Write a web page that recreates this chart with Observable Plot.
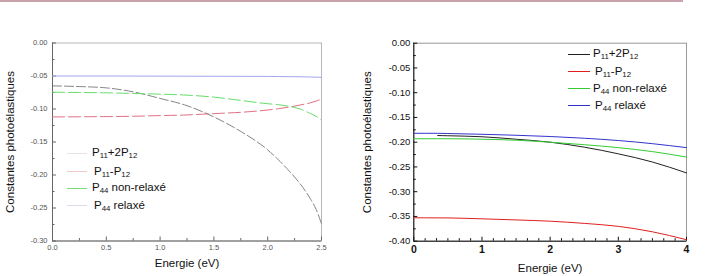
<!DOCTYPE html>
<html><head><meta charset="utf-8">
<script src="https://cdn.jsdelivr.net/npm/d3@7"></script>
<script src="https://cdn.jsdelivr.net/npm/@observablehq/plot@0.6"></script>
<style>
body{margin:0;background:#fff;font-family:"Liberation Sans",Arial,sans-serif;}
#wrap{position:relative;width:706px;height:276px;overflow:hidden;background:#fff;}
.topline{position:absolute;left:0;top:0;width:683px;height:2px;background:#c9a3ac;}
#left,#right{position:absolute;top:0;}
#left{left:0px}
#right{left:360px}
.leg{position:absolute;left:0;top:0;white-space:nowrap;color:#111;}
.leg .sw{position:absolute;height:0;}
.leg .tx{position:absolute;line-height:12px;}
sub{font-size:0.68em;vertical-align:-0.3em;line-height:0;}
</style></head><body>
<div id="wrap"><div class="topline"></div><div id="left"></div><div id="right"></div><div id="legL" class="leg"></div><div id="legR" class="leg"></div></div>
<script>
// ---------- data ----------
const seriesLabels = ["P<sub>11</sub>+2P<sub>12</sub>", "P<sub>11</sub>-P<sub>12</sub>", "P<sub>44</sub> non-relaxé", "P<sub>44</sub> relaxé"];
const yTitle = "Constantes photoélastiques";
const xTitle = "Energie (eV)";

// left panel
const leftE       = [0, 0.25, 0.5, 0.75, 1.0, 1.25, 1.5, 1.75, 2.0, 2.1, 2.2, 2.3, 2.4, 2.45, 2.5];
const leftP11p2P12 = [-0.065, -0.066, -0.068, -0.074, -0.084, -0.095, -0.112, -0.134, -0.162, -0.177, -0.194, -0.213, -0.237, -0.252, -0.274];
const leftP11mP12  = [-0.112, -0.1118, -0.1115, -0.111, -0.110, -0.109, -0.107, -0.105, -0.1015, -0.0995, -0.097, -0.094, -0.0905, -0.088, -0.085];
const leftP44nr    = [-0.0745, -0.075, -0.0755, -0.0765, -0.0775, -0.079, -0.082, -0.087, -0.092, -0.0935, -0.096, -0.1, -0.107, -0.111, -0.117];
const leftP44r     = [-0.050, -0.050, -0.050, -0.0501, -0.0502, -0.0503, -0.0504, -0.0505, -0.0506, -0.0508, -0.051, -0.0512, -0.0515, -0.0518, -0.052];
const leftXTicks = [0, 0.5, 1.0, 1.5, 2.0, 2.5];
const leftXMinor = [0.25, 0.75, 1.25, 1.75, 2.25];
const leftYTicks = [0, -0.05, -0.10, -0.15, -0.20, -0.25, -0.30];
const leftYMinor = [-0.025, -0.075, -0.125, -0.175, -0.225, -0.275];

// right panel
const rightE       = [0, 0.35, 0.5, 1, 1.5, 2, 2.5, 3, 3.5, 4];
const rightP11p2P12 = [null, -0.1865, -0.187, -0.189, -0.194, -0.200, -0.210, -0.2235, -0.240, -0.262];
const rightP11mP12  = [-0.3527, -0.3529, -0.353, -0.3548, -0.357, -0.3596, -0.364, -0.370, -0.381, -0.397];
const rightP44nr    = [-0.193, -0.193, -0.193, -0.194, -0.196, -0.200, -0.205, -0.211, -0.219, -0.230];
const rightP44r     = [-0.182, -0.182, -0.1825, -0.184, -0.186, -0.1885, -0.192, -0.1966, -0.203, -0.211];
const rightXTicks = [0, 1, 2, 3, 4];
const rightXMinor = d3.range(0, 24).map(i => i / 6).filter(v => Math.abs(v - Math.round(v)) > 1e-6);
const rightYTicks = [0, -0.05, -0.10, -0.15, -0.20, -0.25, -0.30, -0.35, -0.40];
const rightYMinor = [-0.025, -0.075, -0.125, -0.175, -0.225, -0.275, -0.325, -0.375];

// ---------- helpers ----------
const font = "Liberation Sans, Arial, sans-serif";
const rows = (E, vals) => E.map((e, i) => ({E: e, v: vals[i]})).filter(d => d.v != null);
const fmt2 = d => (Math.abs(d) < 1e-9 ? 0 : d).toFixed(2);

function panel(opt) {
  const yd = opt.yDomain, xd = opt.xDomain;
  return Plot.plot({
    width: opt.width, height: 276,
    marginLeft: opt.ml, marginRight: opt.mr, marginTop: opt.mt, marginBottom: opt.mb,
    x: {domain: xd}, y: {domain: yd},
    style: {fontFamily: font, background: "transparent", overflow: "visible"},
    marks: [
      Plot.frame({stroke: opt.frameColor, strokeWidth: 1}),
      Plot.ruleX([xd[0]], {stroke: opt.axisColor, strokeWidth: 1}),
      Plot.ruleY([yd[0]], {stroke: opt.axisColor, strokeWidth: 1}),
      // ticks (inward)
      Plot.axisY({ticks: opt.yTicks, tickSize: -4, fill: "none", label: null, stroke: opt.axisColor}),
      Plot.axisY({ticks: opt.yMinor, tickSize: -2.5, fill: "none", label: null, stroke: opt.axisColor}),
      Plot.axisX({ticks: opt.xTicks, tickSize: -4, fill: "none", label: null, stroke: opt.axisColor}),
      Plot.axisX({ticks: opt.xMinor, tickSize: -2.5, fill: "none", label: null, stroke: opt.axisColor}),
      // labels
      Plot.axisY({ticks: opt.yTicks, tickSize: 0, tickPadding: opt.yPad, tickFormat: fmt2, label: null,
        fill: opt.labelColor, fontSize: opt.yFont}),
      Plot.axisX({ticks: opt.xTicks, tickSize: 0, tickPadding: opt.xPad, tickFormat: opt.xFormat, label: null,
        fill: opt.labelColor, fontSize: opt.xFont, fontWeight: opt.xWeight}),
      // titles
      Plot.text([xTitle], {text: d => d, frameAnchor: "bottom", lineAnchor: "middle", dy: opt.xTitleDy, fontSize: 11.5, fill: "#111"}),
      Plot.text([yTitle], {text: d => d, frameAnchor: "left", textAnchor: "middle", lineAnchor: "middle", dx: opt.yTitleDx, rotate: -90, fontSize: 11.5, fill: "#111"}),
      // series
      ...opt.series.map(s => Plot.line(rows(opt.E, s.values), {
        x: "E", y: "v", stroke: s.color, strokeWidth: s.width, strokeDasharray: s.dash, curve: "monotone-x"
      }))
    ]
  });
}

document.getElementById("left").appendChild(panel({
  width: 330, ml: 52, mr: 9, mt: 42.5, mb: 35.5,
  xDomain: [0, 2.5], yDomain: [-0.30, 0],
  xTicks: leftXTicks, xMinor: leftXMinor, yTicks: leftYTicks, yMinor: leftYMinor,
  frameColor: "#b8b8b8", axisColor: "#666", labelColor: "#555",
  yFont: 7.5, xFont: 7.5, yPad: 5, xPad: 4, xWeight: "normal", xFormat: d => d.toFixed(1),
  xTitleDy: 22.5, yTitleDx: -42,
  E: leftE,
  series: [
    {values: leftP11p2P12, color: "#666", width: 0.8, dash: "9,3"},
    {values: leftP11mP12, color: "#e07080", width: 1, dash: "12,4"},
    {values: leftP44nr, color: "#66dd66", width: 1, dash: "12,4"},
    {values: leftP44r, color: "#a4a4f0", width: 1, dash: null}
  ]
}));

document.getElementById("right").appendChild(panel({
  width: 346, ml: 53.3, mr: 20, mt: 42.7, mb: 35.3,
  xDomain: [0, 4], yDomain: [-0.40, 0],
  xTicks: rightXTicks, xMinor: rightXMinor, yTicks: rightYTicks, yMinor: rightYMinor,
  frameColor: "#999", axisColor: "#111", labelColor: "#111",
  yFont: 9.5, xFont: 10.5, yPad: 3.5, xPad: 4.5, xWeight: "bold", xFormat: d => String(d),
  xTitleDy: 27, yTitleDx: -46,
  E: rightE,
  series: [
    {values: rightP11p2P12, color: "#222", width: 1, dash: null},
    {values: rightP11mP12, color: "#e02020", width: 1, dash: null},
    {values: rightP44nr, color: "#33cc33", width: 1, dash: null},
    {values: rightP44r, color: "#3333cc", width: 1, dash: null}
  ]
}));

// ---------- legends ----------
function legend(el, cfg) {
  seriesLabels.forEach((lab, i) => {
    const y = cfg.rowsY[i];
    const sw = document.createElement("div");
    sw.className = "sw";
    sw.style.left = cfg.x1 + "px";
    sw.style.width = (cfg.x2 - cfg.x1) + "px";
    sw.style.top = (y - 0.5) + "px";
    sw.style.borderTop = `1px solid ${cfg.colors[i]}`;
    el.appendChild(sw);
    const tx = document.createElement("div");
    tx.className = "tx";
    tx.style.left = cfg.textX[i] + "px";
    tx.style.top = (y - 7) + "px";
    tx.style.fontSize = cfg.fontSize + "px";
    tx.innerHTML = lab;
    el.appendChild(tx);
  });
}
legend(document.getElementById("legL"), {
  rowsY: [153, 171.5, 188, 205.5], x1: 67, x2: 87, textX: [92, 94, 92, 94], fontSize: 11.5,
  colors: ["#e4e4e4", "#f0c8cc", "#77dd77", "#dcdcec"]
});
legend(document.getElementById("legR"), {
  rowsY: [54, 71.5, 88.5, 105.5], x1: 568, x2: 590, textX: [593, 595, 593, 595], fontSize: 11.5,
  colors: ["#222", "#e02020", "#33cc33", "#3333cc"]
});
</script>
</body></html>
